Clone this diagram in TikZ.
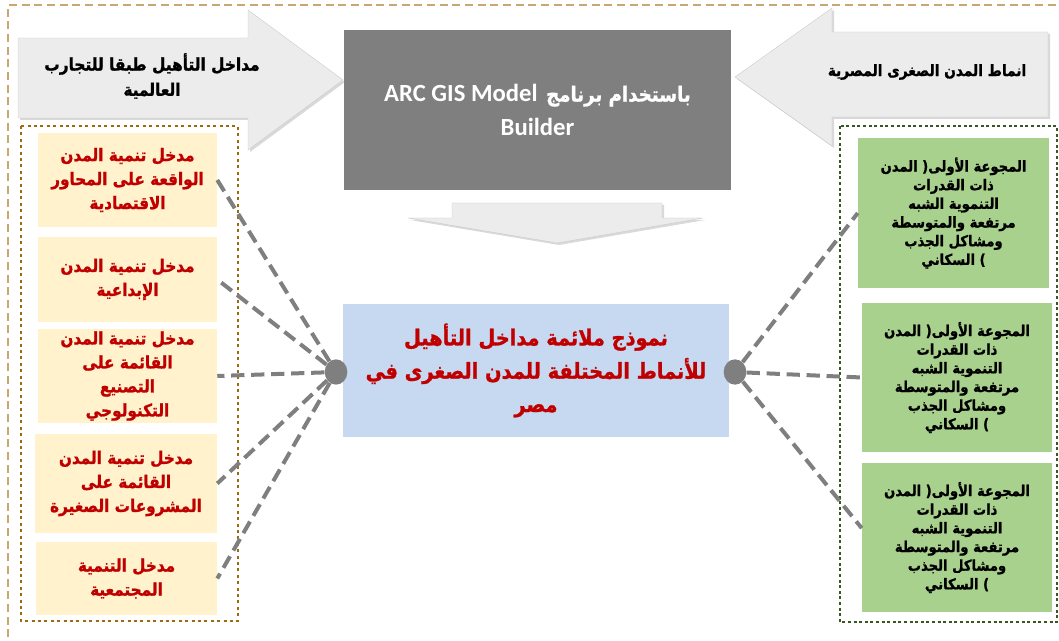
\documentclass[tikz,border=0pt]{standalone}
\usepackage{fontspec}
\setmainfont{DejaVu Sans}
\newfontfamily\arabicfont[Script=Arabic, FakeStretch=0.88, BoldFont={DejaVu Sans Bold}, BoldFeatures={FakeBold=1.2}]{DejaVu Sans}
\newfontfamily\latinfont{Carlito}
\TeXXeTstate=1
\usetikzlibrary{shadows,shapes.geometric}
\newcommand{\AR}[1]{\beginR #1\endR}
\definecolor{outerc}{HTML}{C8A774}
\definecolor{arrowc}{HTML}{ECECEC}
\definecolor{greyc}{HTML}{7F7F7F}
\definecolor{bluec}{HTML}{C6D9F1}
\definecolor{creamc}{HTML}{FFF2CC}
\definecolor{greenc}{HTML}{A9D18E}
\definecolor{redc}{HTML}{C00000}
\definecolor{brownc}{HTML}{9E6A10}
\definecolor{dgreenc}{HTML}{385723}
\newcommand{\grouptext}{\AR{المجوعة الأولى\kern0pt( المدن}\\\AR{ذات القدرات}\\\AR{التنموية الشبه}\\\AR{مرتفعة والمتوسطة}\\\AR{ومشاكل الجذب}\\\AR{)\ السكاني}}
\tikzset{
  bigarrow/.style={fill=arrowc, draw=gray!40, line width=0.3pt,
    drop shadow={opacity=0.3, shadow xshift=1.5pt, shadow yshift=-1.5pt}},
  lbox/.style={fill=creamc, inner sep=0pt, align=center, text=redc,
    font=\arabicfont\bfseries\fontsize{13}{18}\selectfont},
  rbox/.style={fill=greenc, inner sep=0pt, align=center, text=black,
    minimum width=142.5pt, minimum height=111.75pt,
    font=\arabicfont\bfseries\fontsize{11.2}{14}\selectfont},
  arrowtext/.style={align=center, text=black,
    font=\arabicfont\bfseries\fontsize{13.1}{19}\selectfont},
  hub/.style={ellipse, fill=greyc, minimum width=17pt, minimum height=19pt, inner sep=0pt},
  conn/.style={draw=greyc, line width=3pt, dash pattern=on 10pt off 5pt},
  leftframe/.style={draw=brownc, line width=2.2pt, dash pattern=on 2.2pt off 2.6pt},
  rightframe/.style={draw=dgreenc, line width=2.2pt, dash pattern=on 2.2pt off 2pt},
}
\begin{document}
\begin{tikzpicture}[x=0.75pt,y=-0.75pt]
\useasboundingbox (0,0) rectangle (1059,641);
% outer dashed frame
\draw[outerc, line width=1.6pt, dash pattern=on 6pt off 3.5pt] (8,650) -- (8,5) -- (1070,5);
% big arrows
\path[bigarrow] (18,38) -- (248,38) -- (248,10) -- (343,80) -- (248,150) -- (248,118) -- (18,118) -- cycle;
\path[bigarrow] (1048,32) -- (832,32) -- (832,8) -- (735,77) -- (832,146) -- (832,117) -- (1048,117) -- cycle;
\path[bigarrow] (452,203) -- (662,203) -- (662,218) -- (703,218) -- (557,243) -- (408,218) -- (452,218) -- cycle;
\node[arrowtext] (lat) at (152,76) {\AR{مداخل التأهيل طبقا للتجارب}\\\AR{العالمية}};
\node[arrowtext, font=\arabicfont\bfseries\fontsize{11.7}{16}\selectfont] (rat) at (927,72) {\AR{انماط المدن الصغرى المصرية}};
% grey box
\node[fill=greyc, minimum width=290.25pt, minimum height=120pt, inner sep=0pt, align=center, text=white,
  font=\bfseries\fontsize{18.5}{25.5}\selectfont] (G) at (537.5,110)
  {\AR{{\arabicfont\bfseries\fontsize{15.5}{25.5}\selectfont باستخدام برنامج} \beginL{\latinfont\bfseries ARC GIS Model}\endL}\\{\latinfont\bfseries Builder}};
% blue box
\node[fill=bluec, minimum width=289.5pt, minimum height=99.75pt, inner sep=0pt, align=center, text=redc,
  font=\arabicfont\bfseries\fontsize{16.5}{25}\selectfont] (B) at (536,370.5)
  {\AR{نموذج ملائمة مداخل التأهيل}\\\AR{للأنماط المختلفة للمدن الصغرى في}\\\AR{مصر}};
% frames
\draw[leftframe] (21,126) rectangle (238,621);
\draw[rightframe] (840,126) rectangle (1057,622);
% left boxes
\node[lbox, minimum width=134.25pt, minimum height=70.5pt] (L1) at (127.5,180)
  {\AR{مدخل تنمية المدن}\\\AR{الواقعة على المحاور}\\\AR{الاقتصادية}};
\node[lbox, minimum width=134.25pt, minimum height=63.75pt] (L2) at (127.5,279.5)
  {\AR{مدخل تنمية المدن}\\\AR{الإبداعية}};
\node[lbox, minimum width=134.25pt, minimum height=70.5pt] (L3) at (127.5,376)
  {\AR{مدخل تنمية المدن}\\\AR{القائمة على}\\\AR{التصنيع}\\\AR{التكنولوجي}};
\node[lbox, minimum width=136.5pt, minimum height=74.25pt] (L4) at (126,483.5)
  {\AR{مدخل تنمية المدن}\\\AR{القائمة على}\\\AR{المشروعات الصغيرة}};
\node[lbox, minimum width=135.75pt, minimum height=54.75pt] (L5) at (126.5,578.5)
  {\AR{مدخل التنمية}\\\AR{المجتمعية}};
% right boxes
\node[rbox, minimum width=143.25pt, minimum height=112.5pt] (R1) at (953.5,213) {\grouptext};
\node[rbox] (R2) at (957,377.5) {\grouptext};
\node[rbox] (R3) at (957,537.5) {\grouptext};
% hubs
\node[hub] (lc) at (336,372) {};
\node[hub] (rc) at (735,372) {};
% connectors
\foreach \n in {L1,L2,L3,L4,L5} \draw[conn] (lc) -- (\n.east);
\draw[conn] (rc) -- (R1.west);
\draw[conn] (rc) -- (R2.west);
\draw[conn] (rc) -- ([yshift=7pt]R3.west);
\end{tikzpicture}
\end{document}
